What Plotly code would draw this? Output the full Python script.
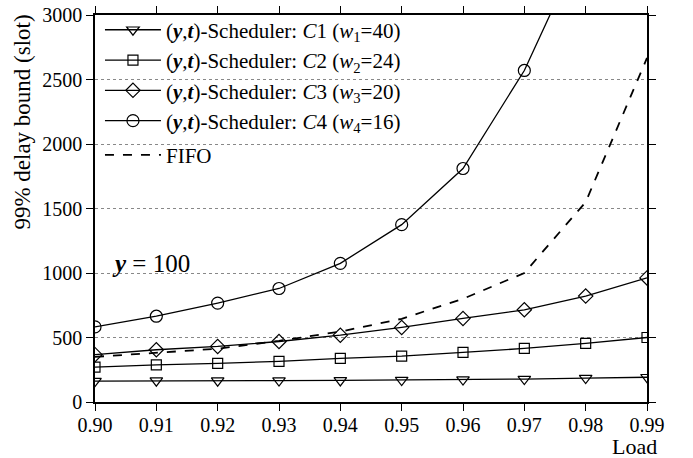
import plotly.graph_objects as go

load = [0.90, 0.91, 0.92, 0.93, 0.94, 0.95, 0.96, 0.97, 0.98, 0.99]
c1 = [162, 165, 165, 166, 167, 170, 174, 178, 185, 192]
c2 = [270, 288, 300, 315, 338, 355, 385, 415, 454, 500]
c3 = [367, 405, 431, 469, 518, 578, 648, 715, 821, 962]
c4 = [582, 665, 767, 880, 1075, 1375, 1810, 2570, 3600, 4700]
fifo = [350, 380, 413, 474, 546, 645, 800, 1000, 1550, 2667]

names = [
    "(<b><i>y</i></b>,<b><i>t</i></b>)-Scheduler: <i>C</i>1 (<i>w</i><sub>1</sub>=40)",
    "(<b><i>y</i></b>,<b><i>t</i></b>)-Scheduler: <i>C</i>2 (<i>w</i><sub>2</sub>=24)",
    "(<b><i>y</i></b>,<b><i>t</i></b>)-Scheduler: <i>C</i>3 (<i>w</i><sub>3</sub>=20)",
    "(<b><i>y</i></b>,<b><i>t</i></b>)-Scheduler: <i>C</i>4 (<i>w</i><sub>4</sub>=16)",
    "FIFO",
]
symbols = ["triangle-down-open", "square-open", "diamond-open", "circle-open"]
sizes = [11, 10, 11, 12]

fig = go.Figure()
for ys, nm, sym, sz in zip([c1, c2, c3, c4], names[:4], symbols, sizes):
    fig.add_trace(go.Scatter(
        x=load, y=ys, name=nm, mode="lines+markers", legendgroup="sched",
        line=dict(color="black", width=1.3),
        marker=dict(symbol=sym, size=sz, color="black", line=dict(width=1.2)),
    ))
fig.add_trace(go.Scatter(
    x=load, y=fifo, name=names[4], mode="lines", legendgroup="fifo",
    line=dict(color="black", width=1.8, dash="dash"),
))

font = "Liberation Serif"
fig.update_layout(
    width=693, height=458,
    margin=dict(l=95, r=46, t=10, b=56),
    paper_bgcolor="white", plot_bgcolor="white",
    font=dict(family=font, size=20, color="black"),
    legend=dict(x=0.009, y=1.014, xanchor="left", yanchor="top",
                bgcolor="rgba(0,0,0,0)", font=dict(size=21, family=font),
                tracegroupgap=4, itemwidth=56),
    showlegend=True,
)
fig.update_xaxes(
    range=[0.90, 0.99], tickvals=load, ticktext=[f"{v:.2f}" for v in load],
    showline=True, linecolor="black", linewidth=1.5, mirror="ticks",
    ticks="outside", ticklen=7, tickcolor="black", showgrid=False, zeroline=False,
    tickfont=dict(size=20, family=font), automargin=False, ticklabelstandoff=-3,
)
fig.update_yaxes(
    range=[0, 3000], tickvals=[0, 500, 1000, 1500, 2000, 2500, 3000],
    showline=True, linecolor="black", linewidth=1.5, mirror="ticks",
    ticks="outside", ticklen=7, tickcolor="black",
    showgrid=True, gridcolor="#888", griddash="dot", gridwidth=1, zeroline=False,
    tickfont=dict(size=20, family=font), automargin=False,
)
fig.add_annotation(x=0, y=(402 - 119) / 392, xref="paper", yref="paper",
                   xanchor="center", yanchor="middle", xshift=-72,
                   text="99% delay bound (slot)", textangle=-90, showarrow=False,
                   font=dict(size=23, family=font))
fig.add_annotation(x=0.9, y=1071, xref="x", yref="y", xanchor="left", yanchor="middle",
                   xshift=15, text="<b><i>y</i></b> = 100", showarrow=False,
                   font=dict(size=25, family=font))
fig.add_annotation(x=0.99, y=0, xref="x", yref="paper", xanchor="center", yanchor="middle",
                   xshift=-13, yshift=-44, text="Load", showarrow=False,
                   font=dict(size=22, family=font))
fig.write_html("out.html", config={"displayModeBar": False},
               post_script="document.body.style.margin='0';")
